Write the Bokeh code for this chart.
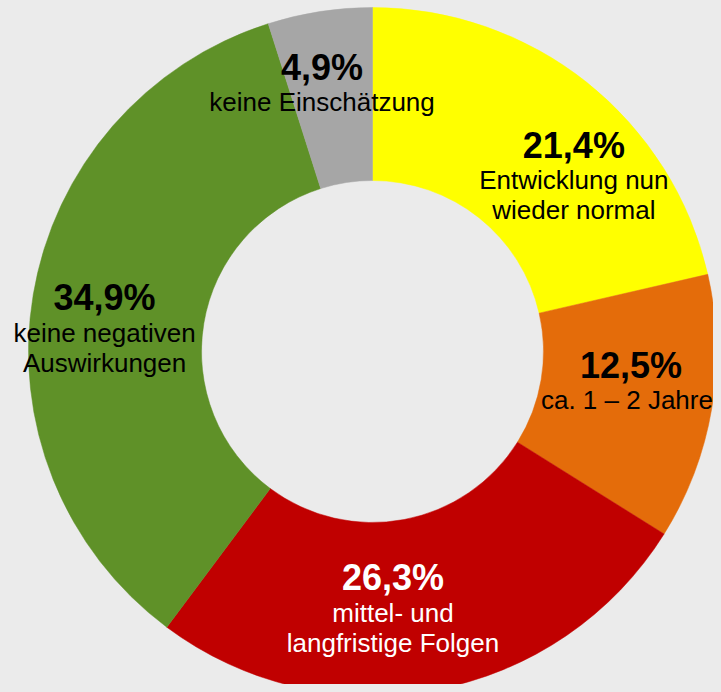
import numpy as np
from bokeh.plotting import figure
from bokeh.models import Range1d, ColumnDataSource
from bokeh.core.properties import value
from bokeh.embed import file_html
from bokeh.resources import INLINE

# ---- data ----
categories = ["Entwicklung nun wieder normal", "ca. 1 – 2 Jahre",
              "mittel- und langfristige Folgen", "keine negativen Auswirkungen",
              "keine Einschätzung"]
shares = [21.4, 12.5, 26.3, 34.9, 4.9]
pct_labels = ["21,4%", "12,5%", "26,3%", "34,9%", "4,9%"]
label_lines = [["Entwicklung nun", "wieder normal"],
               ["ca. 1 – 2 Jahre"],
               ["mittel- und", "langfristige Folgen"],
               ["keine negativen", "Auswirkungen"],
               ["keine Einschätzung"]]
colors = ["#FFFF00", "#E46C0A", "#C00000", "#5F9128", "#A6A6A6"]
text_colors = ["#000000", "#000000", "#FFFFFF", "#000000", "#000000"]

# ---- layout / style ----
W, H = 713, 684
CX, CY = 372, H - 351
R_OUT, R_IN = 344, 171
R_LBL = (R_OUT + R_IN) / 2
# label block offsets (screen px) from slice mid-point
lbl_dx = [41, 4.5, -27, -14, -11]
lbl_dy = [-5, -29, -27, -11, -30]
line_dx = [0, -4, 0, 0, 0]
line_gaps = [35, 65]
BG = "#EBEBEB"
FONT = "Liberation Sans"

vals = np.array(shares, dtype=float)
frac = vals / vals.sum()
cum = np.concatenate([[0], np.cumsum(frac)])
start = np.pi / 2 - 2 * np.pi * cum[:-1]
end = np.pi / 2 - 2 * np.pi * cum[1:]
mid = (start + end) / 2

p = figure(width=W, height=H, output_backend="svg", toolbar_location=None,
           x_range=Range1d(0, W), y_range=Range1d(0, H), min_border=0,
           background_fill_color=BG, border_fill_color=BG)
p.axis.visible = False
p.grid.visible = False
p.outline_line_color = None

src = ColumnDataSource(dict(x=[CX] * len(vals), y=[CY] * len(vals),
                            start=start, end=end, color=colors, cat=categories))
p.annular_wedge(x="x", y="y", inner_radius=R_IN, outer_radius=R_OUT,
                start_angle="start", end_angle="end", direction="clock",
                fill_color="color", line_color="color", line_width=0.5, source=src)

mx = CX + R_LBL * np.cos(mid)
my = CY + R_LBL * np.sin(mid)

pct_src = ColumnDataSource(dict(x=mx, y=my, t=pct_labels, c=text_colors,
                                xo=lbl_dx, yo=lbl_dy))
p.text(x="x", y="y", text="t", x_offset="xo", y_offset="yo", text_color="c",
       text_align="center", text_baseline="alphabetic",
       text_font=value(FONT), text_font_style="bold", text_font_size="36px",
       source=pct_src)

lx, ly, lt, lc, lxo, lyo = [], [], [], [], [], []
for i, lines in enumerate(label_lines):
    for j, line in enumerate(lines):
        lx.append(mx[i]); ly.append(my[i]); lt.append(line); lc.append(text_colors[i])
        lxo.append(lbl_dx[i] + line_dx[i]); lyo.append(lbl_dy[i] + line_gaps[j])
lbl_src = ColumnDataSource(dict(x=lx, y=ly, t=lt, c=lc, xo=lxo, yo=lyo))
p.text(x="x", y="y", text="t", x_offset="xo", y_offset="yo", text_color="c",
       text_align="center", text_baseline="alphabetic",
       text_font=value(FONT), text_font_size="26px", source=lbl_src)

html = file_html(p, INLINE)
html = html.replace("</head>", "<style>html,body{background:#ebebeb;}</style></head>", 1)
open("out.html", "w").write(html)
